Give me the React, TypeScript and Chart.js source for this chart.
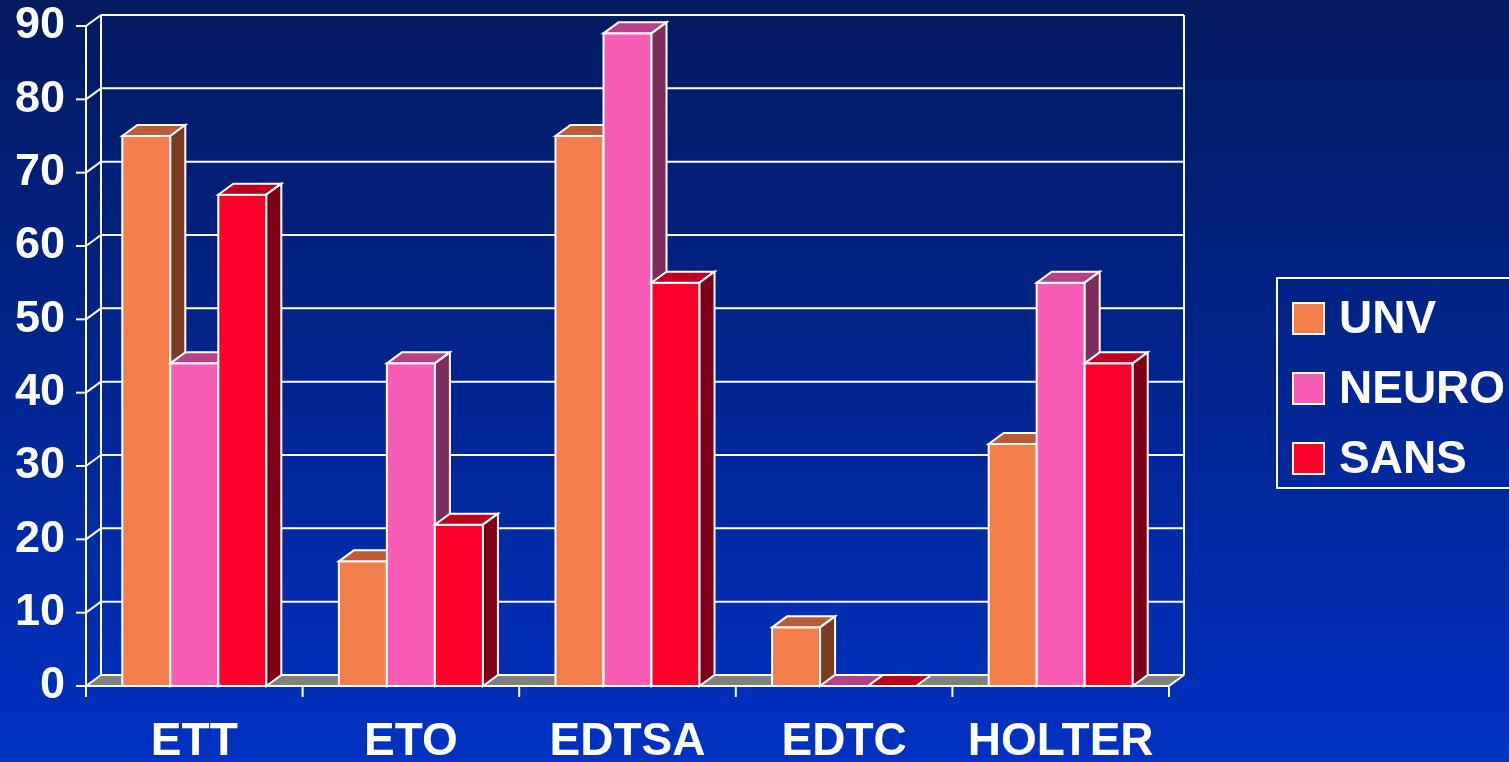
import React, { useEffect, useRef } from "react";
import { Chart, registerables } from "chart.js";

Chart.register(...registerables);

const categories = ["ETT", "ETO", "EDTSA", "EDTC", "HOLTER"];
const seriesNames = ["UNV", "NEURO", "SANS"];
const unvValues = [75, 17, 75, 8, 33];
const neuroValues = [44, 44, 89, 0, 55];
const sansValues = [67, 22, 55, 0, 44];
const yTicks = [0, 10, 20, 30, 40, 50, 60, 70, 80, 90];

const frontColors = ["#F47E4B", "#F95CB5", "#FF0029"];
const topColors = ["#BA5C38", "#B8408A", "#BE0020"];
const sideColors = ["#7A3B22", "#7B2D5B", "#7E0016"];

const FONT = '"Liberation Sans", Arial, Helvetica, sans-serif';
const DX = 15;
const DY = -11;

function line(ctx: CanvasRenderingContext2D, x1: number, y1: number, x2: number, y2: number) {
  ctx.beginPath();
  ctx.moveTo(x1, y1);
  ctx.lineTo(x2, y2);
  ctx.stroke();
}

function poly(ctx: CanvasRenderingContext2D, pts: number[][], fill: string) {
  ctx.beginPath();
  ctx.moveTo(pts[0][0], pts[0][1]);
  for (let i = 1; i < pts.length; i++) ctx.lineTo(pts[i][0], pts[i][1]);
  ctx.closePath();
  ctx.fillStyle = fill;
  ctx.fill();
  ctx.stroke();
}

const threeDPlugin = {
  id: "threeD",
  beforeDraw(chart: any) {
    const ctx = chart.ctx as CanvasRenderingContext2D;
    const g = ctx.createLinearGradient(0, 0, 0, chart.height);
    g.addColorStop(0, "#021a5e");
    g.addColorStop(1, "#0031c2");
    ctx.save();
    ctx.fillStyle = g;
    ctx.fillRect(0, 0, chart.width, chart.height);
    ctx.restore();
  },
  beforeDatasetsDraw(chart: any) {
    const ctx = chart.ctx as CanvasRenderingContext2D;
    const { left, right, top, bottom } = chart.chartArea;
    const ys = chart.scales.y;
    const xs = chart.scales.x;
    ctx.save();
    ctx.strokeStyle = "#ffffff";
    ctx.lineWidth = 2;
    ctx.lineJoin = "miter";

    // floor
    ctx.beginPath();
    ctx.moveTo(left, bottom);
    ctx.lineTo(right, bottom);
    ctx.lineTo(right + DX, bottom + DY);
    ctx.lineTo(left + DX, bottom + DY);
    ctx.closePath();
    ctx.fillStyle = "#808080";
    ctx.fill();

    // back wall grid
    yTicks.forEach((v) => {
      const y = ys.getPixelForValue(v);
      line(ctx, left + DX, y + DY, right + DX, y + DY);
      line(ctx, left, y, left + DX, y + DY);
      line(ctx, left - 10, y, left, y);
    });
    line(ctx, left + DX, top + DY, left + DX, bottom + DY);
    line(ctx, right + DX, top + DY, right + DX, bottom + DY);
    line(ctx, left, top, left, bottom);
    line(ctx, right, bottom, right + DX, bottom + DY);
    line(ctx, left, bottom, right, bottom);

    // category boundary ticks
    const slot = xs.getPixelForValue(1) - xs.getPixelForValue(0);
    for (let i = 0; i <= categories.length; i++) {
      const x = xs.getPixelForValue(0) - slot / 2 + i * slot;
      line(ctx, x, bottom, x, bottom + 11);
    }

    // bars
    chart.data.datasets.forEach((_ds: any, di: number) => {
      const meta = chart.getDatasetMeta(di);
      meta.data.forEach((el: any) => {
        const { x, y, base, width } = el;
        const l = x - width / 2;
        const r = x + width / 2;
        if (base - y > 0) {
          poly(ctx, [[l, y], [r, y], [r, base], [l, base]], frontColors[di]);
        }
        poly(ctx, [[l, y], [r, y], [r + DX, y + DY], [l + DX, y + DY]], topColors[di]);
        if (base - y > 0) {
          poly(ctx, [[r, y], [r + DX, y + DY], [r + DX, base + DY], [r, base]], sideColors[di]);
        }
      });
    });
    ctx.restore();
    return false;
  },
  afterDraw(chart: any) {
    const ctx = chart.ctx as CanvasRenderingContext2D;
    const bx = chart.width - 232;
    const by = chart.height / 2 - 103;
    ctx.save();
    ctx.strokeStyle = "#ffffff";
    ctx.lineWidth = 2;
    ctx.strokeRect(bx, by, 260, 210);
    ctx.font = `bold 46px ${FONT}`;
    ctx.textBaseline = "middle";
    ctx.textAlign = "left";
    seriesNames.forEach((name, i) => {
      const cy = by + 40 + i * 70;
      ctx.fillStyle = frontColors[i];
      ctx.fillRect(bx + 16, cy - 15, 31, 31);
      ctx.strokeRect(bx + 16, cy - 15, 31, 31);
      ctx.fillStyle = "#ffffff";
      ctx.fillText(name, bx + 62, cy + 2);
    });
    ctx.restore();
  },
};

export default function App() {
  const ref = useRef<HTMLCanvasElement | null>(null);
  useEffect(() => {
    document.body.style.margin = "0";
    document.body.style.background = "#0031c2";
    if (!ref.current) return;
    const seriesValues = [unvValues, neuroValues, sansValues];
    const chart = new Chart(ref.current, {
      type: "bar",
      data: {
        labels: categories,
        datasets: seriesNames.map((name, i) => ({
          label: name,
          data: seriesValues[i],
          backgroundColor: frontColors[i],
          borderColor: "#ffffff",
          borderWidth: 2,
          categoryPercentage: 0.665,
          barPercentage: 1,
        })),
      },
      options: {
        responsive: false,
        animation: false,
        layout: { padding: { top: 26, right: 340, left: 0, bottom: 0 } },
        plugins: {
          legend: { display: false },
          tooltip: { enabled: false },
        },
        scales: {
          x: {
            type: "category",
            offset: true,
            grid: { display: false, drawTicks: false },
            border: { display: false },
            ticks: {
              color: "#ffffff",
              font: { family: FONT, size: 46, weight: "bold", lineHeight: 1 },
              padding: 33,
              maxRotation: 0,
              autoSkip: false,
            },
            afterFit: (s: any) => {
              s.height = 76;
              s.paddingLeft = 0;
              s.paddingRight = 0;
            },
          },
          y: {
            min: 0,
            max: 90,
            grid: { display: false, drawTicks: false },
            border: { display: false },
            ticks: {
              stepSize: 10,
              color: "#ffffff",
              font: { family: FONT, size: 45, weight: "bold", lineHeight: 1 },
              padding: 21,
            },
            afterBuildTicks: (s: any) => {
              s.ticks = yTicks.map((v) => ({ value: v }));
            },
            afterFit: (s: any) => {
              s.width = 86;
              s.paddingTop = 0;
              s.paddingBottom = 0;
            },
          },
        },
      },
      plugins: [threeDPlugin],
    } as any);
    return () => chart.destroy();
  }, []);
  return (
    <div style={{ width: 1509, height: 762 }}>
      <canvas ref={ref} width={1509} height={762} style={{ display: "block" }} />
    </div>
  );
}
